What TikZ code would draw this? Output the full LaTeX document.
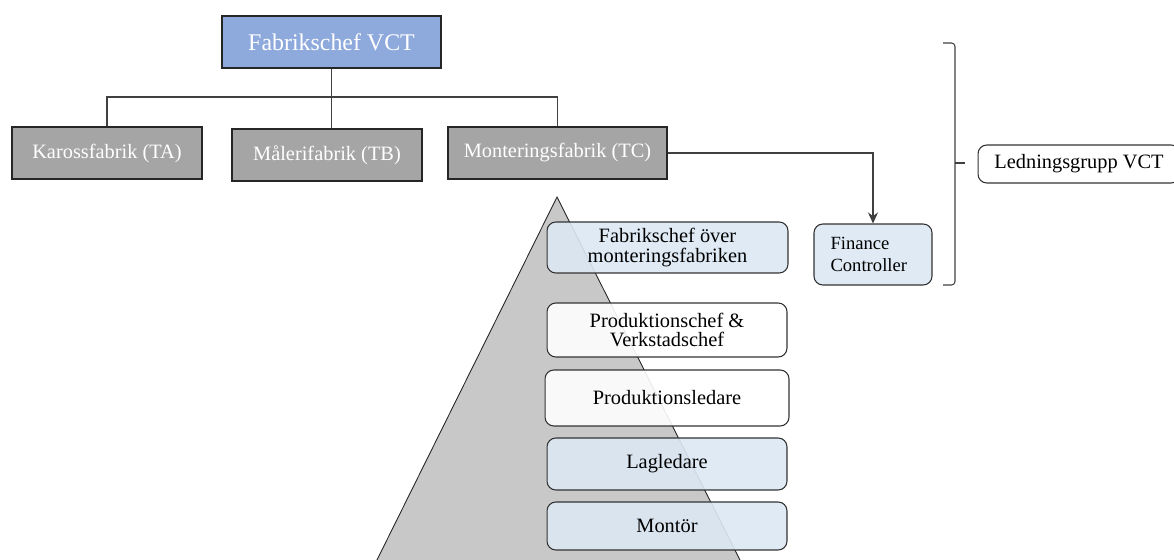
\documentclass[tikz,border=0pt]{standalone}
\usepackage{fontspec}
\setmainfont{Liberation Serif}
\usetikzlibrary{positioning,arrows.meta}
\definecolor{chefblue}{HTML}{8EA9DB}
\definecolor{fabgray}{HTML}{A5A5A5}
\definecolor{lightblue}{HTML}{DCE8F4}
\definecolor{pyrgray}{HTML}{C8C8C8}

\begin{document}
\begin{tikzpicture}[x=0.02cm, y=-0.02cm,
    chefbox/.style={draw=black!85, line width=0.7pt, fill=chefblue, text=white, minimum width=4.38cm, minimum height=1.04cm, font=\fontsize{13.6}{15}\selectfont},
    fabrik/.style={draw=black!85, line width=0.7pt, fill=fabgray, text=white, minimum height=1.04cm, font=\fontsize{11.6}{13}\selectfont},
    level/.style={draw=black!80, line width=0.6pt, rounded corners=5pt, minimum width=4.8cm, align=center, fill opacity=0.9, text opacity=1, font=\fontsize{11.6}{11.2}\selectfont},
    conn/.style={draw=black!75, line width=0.7pt},
    arr/.style={conn, -{Stealth[length=2.2mm, width=2mm]}},
]
\useasboundingbox (0,0) rectangle (1174,560);

% pyramid behind the levels
\fill[pyrgray] (557,197) -- (372,570) -- (745,570) -- cycle;
\draw[black!85, line width=0.5pt] (372,570) -- (557,197) -- (745,570);

\node[chefbox] (chef) at (331.5,42) {Fabrikschef VCT};
\node[fabrik, minimum width=3.8cm] (kaross) at (107,153) {Karossfabrik (TA)};
\node[fabrik, minimum width=3.8cm] (maleri) at (327,155) {Målerifabrik (TB)};
\node[fabrik, minimum width=4.38cm] (montering) at (557.5,153) {Monteringsfabrik (TC)};

\coordinate (bus) at (332,97);
\draw[conn] (kaross.north) |- (bus) -| (montering.north);
\draw[conn] (chef.south) -- (chef.south |- maleri.north);

\node[level, fill=lightblue, minimum width=4.82cm, minimum height=1.02cm] (fom) at (667.5,247.5) {Fabrikschef över\\monteringsfabriken};
\node[level, fill=white, minimum height=1.08cm] (pchef) at (667,330) {Produktionschef \&\\Verkstadschef};
\node[level, fill=white, minimum width=4.88cm, minimum height=1.12cm] (pled) at (667,398) {Produktionsledare};
\node[level, fill=lightblue, minimum height=1.04cm] (lag) at (667,464) {Lagledare};
\node[level, fill=lightblue, minimum height=0.96cm] (montor) at (667,526) {Montör};

\node[level, fill=lightblue, minimum width=2.36cm, minimum height=1.22cm, align=left, text width=1.7cm, font=\fontsize{10.6}{12.4}\selectfont] (finance) at (873,254.5) {Finance\\Controller};
\draw[arr] (montering.east) -| (finance.north);

% bracket for the management group
\coordinate (brtop) at (943,43);
\coordinate (brbot) at (943,285);
\coordinate (brtip) at (965,163);
\draw[black!75, line width=0.6pt, rounded corners=2pt] (brtop) -- (955,43) -- (955,285) -- (brbot);
\draw[black!75, line width=0.6pt] (955,163) -- (brtip);

\node[level, fill=white, minimum width=4.04cm, minimum height=0.76cm] (ledning) at (1079,164) {Ledningsgrupp VCT};
\end{tikzpicture}
\end{document}
